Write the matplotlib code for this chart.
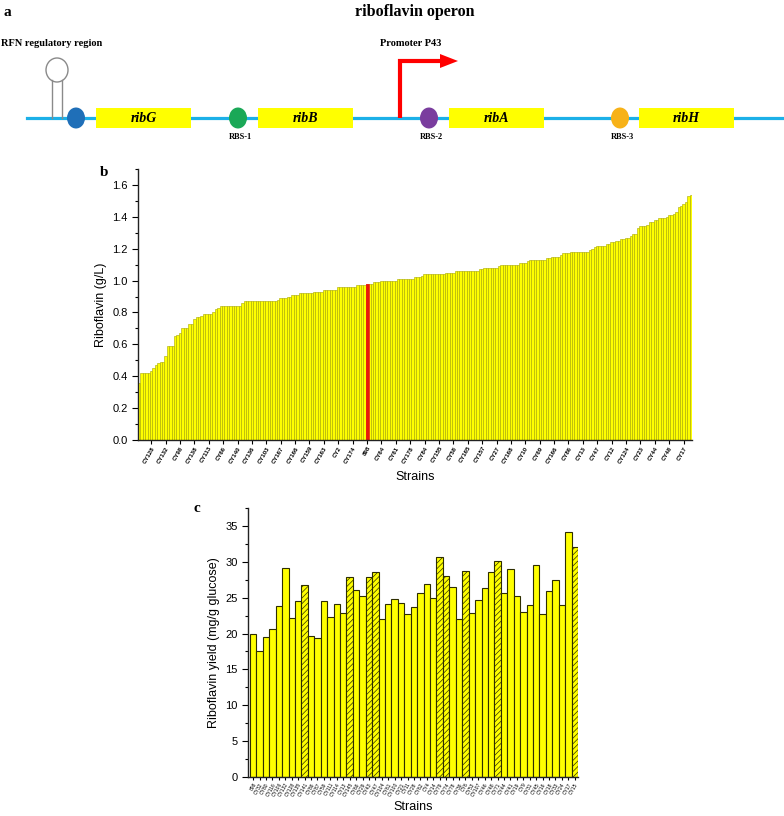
import numpy as np
import matplotlib
matplotlib.use('Agg')
import matplotlib.pyplot as plt
from matplotlib.patches import Rectangle, Ellipse, Polygon
from matplotlib.ticker import MultipleLocator

plt.rcParams['font.family'] = ['Liberation Sans', 'DejaVu Sans']
plt.rcParams['hatch.linewidth'] = 0.5

# ---------------- data ----------------
# panel a: operon layout
genes = ['ribG', 'ribB', 'ribA', 'ribH']
rbs_names = ['', 'RBS-1', 'RBS-2', 'RBS-3']
rbs_colors = ['#1f6fb8', '#1aa857', '#7a3d9e', '#f7b218']

# panel b: riboflavin titre of all strains (sorted)
titre_b = [
    0.36, 0.42, 0.42, 0.42, 0.42, 0.43, 0.45, 0.47, 0.48, 0.49,
    0.49, 0.53, 0.59, 0.59, 0.59, 0.65, 0.66, 0.67, 0.70, 0.70,
    0.70, 0.73, 0.73, 0.76, 0.77, 0.77, 0.78, 0.79, 0.79, 0.79,
    0.79, 0.80, 0.82, 0.83, 0.84, 0.84, 0.84, 0.84, 0.84, 0.84,
    0.84, 0.84, 0.84, 0.86, 0.87, 0.87, 0.87, 0.87, 0.87, 0.87,
    0.87, 0.87, 0.87, 0.875, 0.875, 0.875, 0.875, 0.875, 0.88, 0.89,
    0.89, 0.89, 0.90, 0.90, 0.91, 0.91, 0.91, 0.92, 0.92, 0.92,
    0.92, 0.92, 0.92, 0.93, 0.93, 0.93, 0.93, 0.94, 0.94, 0.94,
    0.94, 0.94, 0.94, 0.96, 0.96, 0.96, 0.96, 0.96, 0.96, 0.96,
    0.96, 0.97, 0.97, 0.97, 0.97, 0.98, 0.98, 0.98, 0.99, 0.99,
    0.99, 1.00, 1.00, 1.00, 1.00, 1.00, 1.00, 1.00, 1.01, 1.01,
    1.01, 1.01, 1.01, 1.01, 1.01, 1.02, 1.02, 1.02, 1.03, 1.04,
    1.04, 1.04, 1.04, 1.04, 1.04, 1.04, 1.04, 1.04, 1.045, 1.045,
    1.05, 1.05, 1.06, 1.06, 1.06, 1.06, 1.06, 1.06, 1.06, 1.06,
    1.06, 1.06, 1.07, 1.07, 1.08, 1.08, 1.08, 1.08, 1.08, 1.08,
    1.09, 1.10, 1.10, 1.10, 1.10, 1.10, 1.10, 1.10, 1.10, 1.11,
    1.11, 1.11, 1.12, 1.13, 1.13, 1.13, 1.13, 1.13, 1.13, 1.13,
    1.14, 1.14, 1.15, 1.15, 1.15, 1.15, 1.16, 1.17, 1.17, 1.17,
    1.18, 1.18, 1.18, 1.18, 1.18, 1.18, 1.18, 1.18, 1.19, 1.20,
    1.21, 1.22, 1.22, 1.22, 1.22, 1.23, 1.23, 1.24, 1.24, 1.25,
    1.25, 1.26, 1.26, 1.27, 1.27, 1.28, 1.29, 1.29, 1.33, 1.34,
    1.34, 1.34, 1.35, 1.37, 1.37, 1.38, 1.38, 1.39, 1.39, 1.39,
    1.40, 1.41, 1.41, 1.42, 1.43, 1.46, 1.47, 1.48, 1.49, 1.53,
    1.54,
]
ticklabels_b = ['CY128', 'CY132', 'CY98', 'CY138', 'CY113', 'CY66', 'CY140', 'CY136',
                'CY103', 'CY167', 'CY166', 'CY159', 'CY163', 'CY2', 'CY174', '898',
                'CY64', 'CY61', 'CY178', 'CY84', 'CY155', 'CY58', 'CY165', 'CY157',
                'CY27', 'CY168', 'CY10', 'CY69', 'CY166', 'CY86', 'CY13', 'CY47',
                'CY12', 'CY124', 'CY23', 'CY44', 'CY48', 'CY17']
control_name = '898'

# panel c: riboflavin yield on glucose
yield_c = [20.0, 17.6, 19.5, 20.6, 23.8, 29.2, 22.2, 24.5, 26.8, 19.7,
           19.4, 24.6, 22.3, 24.1, 22.9, 27.9, 26.1, 25.3, 27.9, 28.6,
           22.0, 24.1, 24.8, 24.3, 22.7, 23.7, 25.7, 26.9, 24.9, 30.6,
           28.0, 26.5, 22.0, 28.7, 22.9, 24.7, 26.4, 28.6, 30.1, 25.7,
           29.0, 25.3, 23.0, 24.0, 29.5, 22.7, 25.9, 27.4, 24.0, 34.1,
           32.1]
strains_c = ['898', 'CY32', 'CY80', 'CY116', 'CY106', 'CY132', 'CY128', 'CY135', 'CY141', 'CY86',
             'CY87', 'CY59', 'CY111', 'CY114', 'CY13', 'CY145', 'CY66', 'CY29', 'CY43', 'CY47',
             'CY104', 'CY61', 'CY100', 'CY21', 'CY11', 'CY28', 'CY62', 'CY4', 'CY14', 'CY79',
             'CY74', 'CY78', 'CY36', 'CY6', 'CY53', 'CY107', 'CY46', 'CY48', 'CY71', 'CY44',
             'CY41', 'CY19', 'CY9', 'CY31', 'CY45', 'CY16', 'CY18', 'CY33', 'CY24', 'CY17',
             'CY15']
hatched_c = ['CY141', 'CY145', 'CY43', 'CY47', 'CY79', 'CY74', 'CY6', 'CY71', 'CY15']

W, H = 784, 816
fig = plt.figure(figsize=(W / 100, H / 100), dpi=100)


def frac(x, y):
    # pixel position (from top-left) -> figure fraction
    return x / W, 1 - y / H


def axes_px(left, top, right, bottom):
    return fig.add_axes([left / W, 1 - bottom / H, (right - left) / W, (bottom - top) / H])


serif = ['Liberation Serif', 'DejaVu Serif']

# ---------------- panel a ----------------
axa = axes_px(0, 0, W, 150)
axa.set_xlim(0, W)
axa.set_ylim(150, 0)
axa.axis('off')

line_y = 118
axa.plot([27, 782], [line_y, line_y], color='#1cb0e8', lw=2.3, zorder=1)

# RFN stem-loop
axa.add_patch(Ellipse((57, 70), 22, 24, fill=False, ec='#8a8a8a', lw=1.0))
axa.plot([52, 52], [80, line_y], color='#8a8a8a', lw=1.0)
axa.plot([62, 62], [80, line_y], color='#8a8a8a', lw=1.0)

rbs_x = [76, 238, 429, 620]
gene_x = [96, 258, 449, 639]
for g, gx, rx, rn, rc in zip(genes, gene_x, rbs_x, rbs_names, rbs_colors):
    axa.add_patch(Rectangle((gx, line_y - 10), 95, 20, fc='#ffff00', ec='none', zorder=2))
    axa.text(gx + 47.5, line_y, g, ha='center', va='center', fontsize=10,
             family=serif, style='italic', weight='bold', zorder=3)
    axa.add_patch(Ellipse((rx, line_y), 18, 21, fc=rc, ec='none', zorder=3))
    if rn:
        axa.text(rx + 2, line_y + 19, rn, ha='center', va='center', fontsize=6,
                 family=serif, weight='bold')

# promoter arrow
axa.plot([400, 400, 442], [line_y, 61, 61], color='#ff0000', lw=3,
         solid_joinstyle='miter', solid_capstyle='butt', zorder=4)
axa.add_patch(Polygon([[440, 54], [440, 68], [458, 61]], closed=True, fc='#ff0000', ec='none', zorder=4))

axa.text(380, 43, 'Promoter P43', ha='left', va='center', fontsize=7.5, family=serif, weight='bold')
axa.text(1, 43, 'RFN regulatory region', ha='left', va='center', fontsize=7.5, family=serif, weight='bold')
axa.text(415, 12, 'riboflavin operon', ha='center', va='center', fontsize=11.5, family=serif, weight='bold')
axa.text(4, 12, 'a', ha='left', va='center', fontsize=11, family=serif, weight='bold')

# ---------------- panel b ----------------
axb = axes_px(138, 169, 692, 440)
xb = np.arange(len(titre_b))
bar_colors = ['#ffff00'] * len(titre_b)
edge_colors = ['#a6a600'] * len(titre_b)
tick_pos_b = np.arange(5, len(titre_b), 6)[:len(ticklabels_b)]
red_idx = tick_pos_b[ticklabels_b.index(control_name)]
bar_colors[red_idx] = '#e8170c'
edge_colors[red_idx] = '#e8170c'
axb.bar(xb, titre_b, width=1.0, color=bar_colors, edgecolor=edge_colors, linewidth=0.4)
axb.bar([red_idx], [titre_b[red_idx]], width=1.25, color='#e8170c', edgecolor='#e8170c', linewidth=0.4)
axb.set_xlim(-0.5, len(titre_b) - 0.5)
axb.set_ylim(0, 1.7)
axb.yaxis.set_major_locator(MultipleLocator(0.2))
axb.yaxis.set_minor_locator(MultipleLocator(0.1))
axb.set_yticklabels([f'{v:.1f}' for v in axb.get_yticks()])
axb.set_xticks(tick_pos_b)
axb.set_xticklabels(ticklabels_b, rotation=60, ha='right', rotation_mode='anchor',
                    fontsize=4.3, fontweight='bold')
for s in ['top', 'right']:
    axb.spines[s].set_visible(False)
for s in ['left', 'bottom']:
    axb.spines[s].set_linewidth(1.0)
    axb.spines[s].set_color('#222222')
axb.tick_params(axis='y', which='major', direction='out', length=4, width=0.8, labelsize=8)
axb.tick_params(axis='y', which='minor', direction='out', length=2, width=0.8)
axb.tick_params(axis='x', direction='out', length=3, width=0.8, pad=1)
axb.set_ylabel('Riboflavin (g/L)', fontsize=9, labelpad=4)
axb.set_xlabel('Strains', fontsize=9)
axb.xaxis.set_label_coords(0.5, -0.115)
fig.text(*frac(100, 172), 'b', ha='left', va='center', fontsize=11, family=serif, weight='bold')

# ---------------- panel c ----------------
axc = axes_px(248, 508, 578, 777)
xc = np.arange(len(yield_c))
bars = axc.bar(xc, yield_c, width=1.0, color='#ffff00', edgecolor='#2e2e00', linewidth=0.8)
for b, name in zip(bars, strains_c):
    if name in hatched_c:
        b.set_hatch('//////')
axc.set_xlim(-0.8, len(yield_c) - 0.5)
axc.set_ylim(0, 37.5)
axc.yaxis.set_major_locator(MultipleLocator(5))
axc.yaxis.set_minor_locator(MultipleLocator(2.5))
axc.set_xticks(xc)
axc.set_xticklabels(strains_c, rotation=60, ha='right', rotation_mode='anchor', fontsize=3.6)
for s in ['top', 'right']:
    axc.spines[s].set_visible(False)
for s in ['left', 'bottom']:
    axc.spines[s].set_linewidth(1.0)
    axc.spines[s].set_color('#222222')
axc.tick_params(axis='y', which='major', direction='out', length=4, width=0.8, labelsize=8)
axc.tick_params(axis='y', which='minor', direction='out', length=2, width=0.8)
axc.tick_params(axis='x', direction='out', length=2.5, width=0.8, pad=1)
axc.set_ylabel('Riboflavin yield (mg/g glucose)', fontsize=9, labelpad=4)
axc.set_xlabel('Strains', fontsize=9)
axc.xaxis.set_label_coords(0.5, -0.088)
fig.text(*frac(193, 508), 'c', ha='left', va='center', fontsize=11, family=serif, weight='bold')

fig.savefig('out.png', dpi=100)
